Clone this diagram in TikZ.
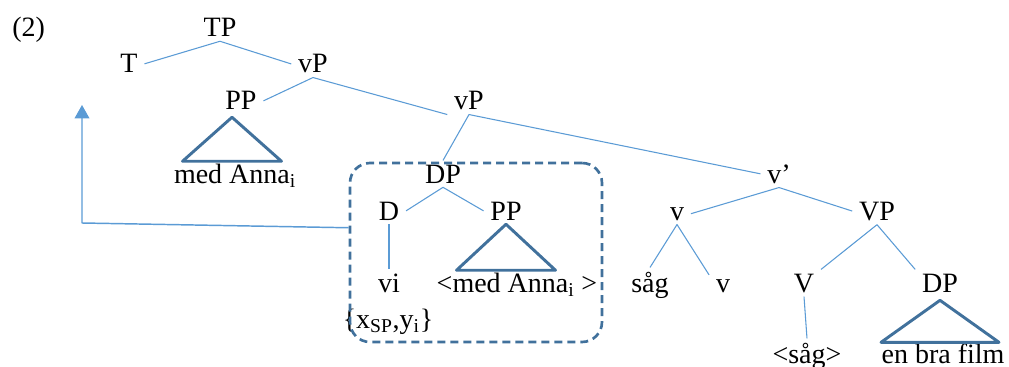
\documentclass[tikz,border=0pt]{standalone}
\usepackage{fontspec}
\setmainfont{Liberation Serif}
\usetikzlibrary{arrows.meta}
\definecolor{branchblue}{RGB}{91,155,213}
\definecolor{steelblue}{RGB}{65,113,156}
\begin{document}
\begin{tikzpicture}[x=0.75pt,y=-0.75pt,line join=round,
    font=\fontsize{21pt}{24pt}\selectfont,
    tn/.style={anchor=base,inner xsep=5pt,inner ysep=3pt},
    branch/.style={draw=branchblue,line width=0.8pt},
    tri/.style={draw=steelblue,line width=2.2pt},
    dbox/.style={draw=steelblue,line width=2pt,dash pattern=on 6pt off 3.75pt,rounded corners=15pt,inner sep=0pt},
    arr/.style={draw=branchblue,line width=1.1pt,-{Triangle[length=10pt,width=11pt]}}]
  \useasboundingbox (0,0) rectangle (1009,367);
  \clip (0,0) rectangle (1009,367);
  % labels
  \node[anchor=base west,inner sep=0pt] (ex) at (12,37) {(2)};
  \node[tn] (tp) at (220,37) {TP};
  \node[tn] (t) at (129,73) {T};
  \node[tn] (vpa) at (313,73) {vP};
  \node[tn] (pp) at (241,110) {PP};
  \node[tn] (vpb) at (469,110) {vP};
  \node[tn] (meda) at (235,183) {med Anna\textsubscript{i}};
  \node[tn] (dp) at (443,183) {DP};
  \node[tn] (vb) at (779,183) {v’};
  \node[tn] (d) at (389,220) {D};
  \node[tn] (ppb) at (506,220) {PP};
  \node[tn] (vc) at (677,220) {v};
  \node[tn] (vp) at (877,220) {VP};
  \node[tn] (vi) at (389,292) {vi};
  \node[tn] (medb) at (517,292) {<med Anna\textsubscript{i} >};
  \node[tn] (sag) at (650,292) {såg};
  \node[tn] (vd) at (723,292) {v};
  \node[tn] (vv) at (804,292) {V};
  \node[tn] (dpb) at (940,292) {DP};
  \node[tn] (xy) at (388,328) {\{x\textsubscript{SP},y\textsubscript{i}\}};
  \node[tn] (sagb) at (807,363) {<såg>};
  \node[tn] (film) at (943,363) {en bra film};
  % branches
  \draw[branch] (t.east) -- (tp.south) -- (vpa.west);
  \draw[branch] (pp.east) -- (vpa.south) -- (vpb.south west);
  \draw[branch] (dp.north) -- (vpb.south) -- (vb.west);
  \draw[branch] (d.east) -- (dp.south) -- (ppb.west);
  \draw[branch] (d.south) -- (vi.north);
  \draw[branch] (vc.east) -- (vb.south) -- (vp.west);
  \draw[branch] (sag.north) -- (vc.south) -- (vd.north west);
  \draw[branch] (vv.north east) -- (vp.south) -- (dpb.north west);
  \draw[branch] (vv.south) -- (sagb.north);
  % triangles
  \draw[tri] (pp.south) ++(-9,3) -- ++(-49.5,44) -- ++(99,0) -- cycle;
  \draw[tri] (ppb.south) -- ++(-49.5,46) -- ++(99,0) -- cycle;
  \draw[tri] (dpb.south) ++(0,4) -- ++(-59,42) -- ++(118,0) -- cycle;
  % moved constituent
  \node[dbox,minimum width=189pt,minimum height=134.25pt] (box) at (476,252.5) {};
  \coordinate (bend) at (82,223);
  \coordinate (top) at (82,105);
  \draw[arr] (box.169) -- (bend) -- (top);
\end{tikzpicture}
\end{document}
